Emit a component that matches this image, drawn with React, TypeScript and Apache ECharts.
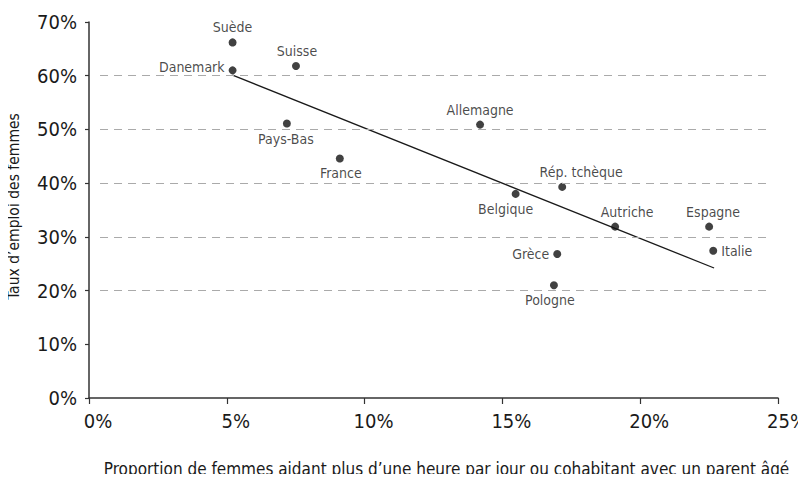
import React, { useEffect, useRef } from "react";
import * as echarts from "echarts";

const countries = ["Suède", "Danemark", "Suisse", "Pays-Bas", "France", "Allemagne", "Belgique", "Rép. tchèque", "Autriche", "Espagne", "Italie", "Grèce", "Pologne"];
const careShare = [5.21, 5.21, 7.51, 7.18, 9.1, 14.19, 15.48, 17.17, 19.09, 22.5, 22.65, 16.99, 16.87];
const employmentRate = [66.2, 61.0, 61.8, 51.1, 44.6, 50.9, 38.0, 39.3, 31.9, 31.9, 27.4, 26.8, 21.0];
const trendX = [5.21, 22.68];
const trendY = [60.1, 24.2];
const gridValues = [20, 30, 40, 50, 60];
const xTicks = [0, 5, 10, 15, 20, 25];
const yTicks = [0, 10, 20, 30, 40, 50, 60, 70];

const FONT = "'DejaVu Sans Condensed', 'Liberation Sans', sans-serif";
const TEXT = "#1a1a1a";

// label placement per country: [position, dx, dy]
const labelPlacement: Record<string, [string, number, number]> = {
  "Suède": ["top", 0, 0],
  "Danemark": ["left", 0, -3],
  "Suisse": ["top", 1, 0],
  "Pays-Bas": ["bottom", -1, 0],
  "France": ["bottom", 1, 0],
  "Allemagne": ["top", 0, 0],
  "Belgique": ["bottom", -10, 0],
  "Rép. tchèque": ["top", 19, 0],
  "Autriche": ["top", 12, 0],
  "Espagne": ["top", 4, 0],
  "Italie": ["right", 0, 0],
  "Grèce": ["left", 0, 0],
  "Pologne": ["bottom", -4, 0],
};

export default function App() {
  const ref = useRef<HTMLDivElement>(null);
  useEffect(() => {
    if (!ref.current) return;
    const chart = echarts.init(ref.current, undefined, { renderer: "svg" });
    const points = countries.map((name, i) => {
      const [pos, dx, dy] = labelPlacement[name];
      return {
        name,
        value: [careShare[i], employmentRate[i]],
        label: { position: pos, offset: [dx, dy] },
      };
    });
    const gridLines = gridValues.map((v) => [
      { coord: [0.4, v] },
      { coord: [24.78, v] },
    ]);
    chart.setOption({
      animation: false,
      backgroundColor: "#ffffff",
      grid: { left: 89, right: 28, top: 22, bottom: 84, containLabel: false, outerBoundsMode: "none" },
      xAxis: {
        type: "value",
        min: xTicks[0],
        max: xTicks[xTicks.length - 1],
        interval: 5,
        name: "Proportion de femmes aidant plus d\u2019une heure par jour ou cohabitant avec un parent âgé",
        nameLocation: "middle",
        nameGap: 62,
        nameTextStyle: { fontFamily: FONT, fontSize: 17, color: TEXT, padding: [0, 0, 0, 26] },
        axisLine: { show: true, lineStyle: { color: "#333", width: 1.5 } },
        axisTick: { show: true, length: 6, lineStyle: { color: "#333", width: 1.2 } },
        axisLabel: { formatter: "{value}%", fontFamily: FONT, fontSize: 20, color: TEXT, margin: 13, padding: [0, 0, 0, 18] },
        splitLine: { show: false },
      },
      yAxis: {
        type: "value",
        min: yTicks[0],
        max: yTicks[yTicks.length - 1],
        interval: 10,
        name: "Taux d\u2019emploi des femmes",
        nameLocation: "middle",
        nameGap: 67,
        nameTextStyle: { fontFamily: FONT, fontSize: 15.5, color: TEXT, padding: [0, 0, 0, 7] },
        axisLine: { show: true, lineStyle: { color: "#333", width: 1.5 } },
        axisTick: { show: true, length: 4, lineStyle: { color: "#333", width: 1.2 } },
        axisLabel: { formatter: "{value}%", fontFamily: FONT, fontSize: 20, color: TEXT, margin: 12 },
        splitLine: { show: false },
      },
      series: [
        {
          type: "line",
          data: trendX.map((x, i) => [x, trendY[i]]),
          symbol: "none",
          lineStyle: { color: "#1a1a1a", width: 1.3 },
          silent: true,
          z: 2,
          markLine: {
            silent: true,
            symbol: "none",
            label: { show: false },
            lineStyle: { color: "#aaa", type: [8, 6], width: 1 },
            data: gridLines,
          },
        },
        {
          type: "scatter",
          data: points,
          symbol: "circle",
          symbolSize: 8,
          itemStyle: { color: "#111" },
          z: 3,
          label: {
            show: true,
            formatter: "{b}",
            fontFamily: FONT,
            fontSize: 14,
            color: TEXT,
            distance: 4,
          },
        },
      ],
    });
    return () => chart.dispose();
  }, []);
  return <div ref={ref} style={{ width: 806, height: 482, margin: -8 }} />;
}
